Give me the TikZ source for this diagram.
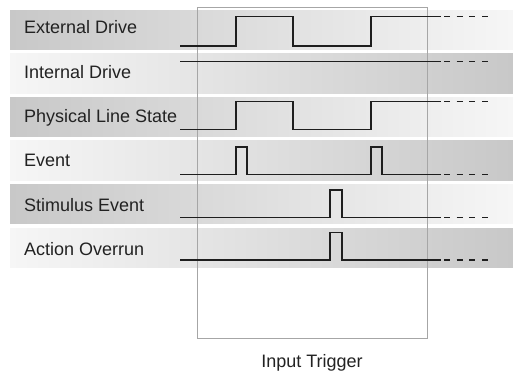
\documentclass[tikz,border=0pt]{standalone}
\usepackage{fontspec}
\setmainfont{Liberation Sans}
\usepackage{xcolor}
\definecolor{bandDark}{HTML}{C8C8C8}
\definecolor{bandLight}{HTML}{F6F6F6}
\definecolor{frm}{HTML}{A6A6A6}
\definecolor{trc}{HTML}{1E1E1E}
\definecolor{txt}{HTML}{222222}

\begin{document}
\begin{tikzpicture}[
      x = 1pt, y = -1pt, % one unit per pixel, y grows downwards
      line join = miter,
      font = \fontsize{18}{21}\selectfont, % label size
      text = txt,
    ]

    \tikzstyle{signal}=[
      draw = trc,
      line width = 1.8pt
    ]
    \tikzstyle{tail}=[signal, dash pattern = on 6pt off 6.67pt]
    \tikzstyle{lbl}=[anchor = base west, inner sep = 0pt]
    \tikzstyle{darkband}=[left color = bandDark, right color = bandLight]
    \tikzstyle{lightband}=[left color = bandLight, right color = bandDark]

    \useasboundingbox (0, 0) rectangle (513, 375);

    % bands
    \shade[darkband]  (10, 10)    rectangle (513, 49.5);
    \shade[lightband] (10, 53.6)  rectangle (513, 93);
    \shade[darkband]  (10, 97.2)  rectangle (513, 136.7);
    \shade[lightband] (10, 140.8) rectangle (513, 180.3);
    \shade[darkband]  (10, 184.4) rectangle (513, 223.9);
    \shade[lightband] (10, 228)   rectangle (513, 267.5);

    % trigger window
    \draw[frm, line width = 0.8pt] (197, 7) rectangle (427, 338);

    % labels
    \node[lbl] (ext) at (24, 33.5)  {External Drive};
    \node[lbl] (int) at (24, 78.5)  {Internal Drive};
    \node[lbl] (phy) at (24, 122.5) {Physical Line State};
    \node[lbl] (evt) at (24, 166.5) {Event};
    \node[lbl] (stm) at (24, 211.5) {Stimulus Event};
    \node[lbl] (ovr) at (24, 255.5) {Action Overrun};
    \node (trg) at (312, 363) {Input Trigger};

    % waveforms
    \draw[signal] (180, 46) -- (236, 46) -- (236, 16.5) -- (293, 16.5)
      -- (293, 46) -- (371, 46) -- (371, 16.5) -- (441, 16.5);
    \draw[tail] (444, 16.5) -- (488, 16.5);

    \draw[signal] (180, 61.5) -- (441, 61.5);
    \draw[tail] (444, 61.5) -- (488, 61.5);

    \draw[signal] (180, 129.5) -- (236, 129.5) -- (236, 101.5) -- (293, 101.5)
      -- (293, 129.5) -- (371, 129.5) -- (371, 101.5) -- (441, 101.5);
    \draw[tail] (444, 101.5) -- (488, 101.5);

    \draw[signal] (180, 174.5) -- (236, 174.5) -- (236, 147) -- (247, 147)
      -- (247, 174.5) -- (371, 174.5) -- (371, 147) -- (382, 147)
      -- (382, 174.5) -- (441, 174.5);
    \draw[tail] (444, 174.5) -- (488, 174.5);

    \draw[signal] (180, 217.5) -- (330, 217.5) -- (330, 190) -- (342, 190)
      -- (342, 217.5) -- (441, 217.5);
    \draw[tail] (444, 217.5) -- (488, 217.5);

    \draw[signal] (180, 260) -- (330, 260) -- (330, 232.5) -- (342, 232.5)
      -- (342, 260) -- (441, 260);
    \draw[tail] (444, 260) -- (488, 260);

  \end{tikzpicture}
\end{document}
